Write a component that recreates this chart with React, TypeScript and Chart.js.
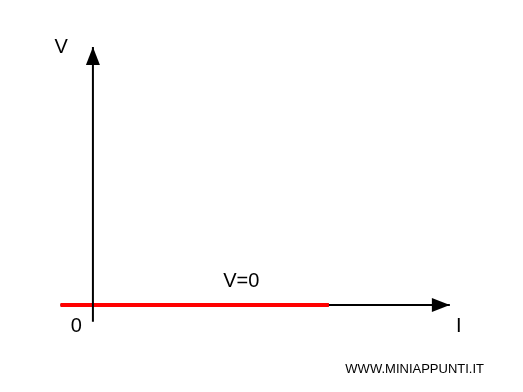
import React, { useEffect, useRef } from "react";
import { Chart, registerables } from "chart.js";

Chart.register(...registerables);

// Domain values (x: current I, y: voltage V)
const redLineX = [-1.1, 8];
const redLineY = [0, 0];
const iAxisX = [-1.1, 12.1];
const vAxisY = [-0.65, 10];
const xRange = [-3.15, 14.58];
const yRange = [-3.37, 11.82];

const labelTexts = ["V", "I", "0", "V=0"];
const labelX = [-1.08, 12.4, -0.56, 5.03];
const labelY = [9.77, -1.05, -1.05, 0.7];
const watermark = "WWW.MINIAPPUNTI.IT";

const FONT = "'Liberation Sans', Arial, sans-serif";

const arrowsAndText = {
  id: "arrowsAndText",
  afterDatasetsDraw(chart: any) {
    const { ctx } = chart;
    const xs = chart.scales.x;
    const ys = chart.scales.y;
    const px = (v: number) => xs.getPixelForValue(v);
    const py = (v: number) => ys.getPixelForValue(v);
    ctx.save();
    ctx.fillStyle = "#000";
    // horizontal arrowhead
    const hx = px(iAxisX[1]);
    const hy = py(0);
    ctx.beginPath();
    ctx.moveTo(hx, hy);
    ctx.lineTo(hx - 18, hy - 7);
    ctx.lineTo(hx - 18, hy + 7);
    ctx.closePath();
    ctx.fill();
    // vertical arrowhead
    const vx = px(0);
    const vy = py(vAxisY[1]);
    ctx.beginPath();
    ctx.moveTo(vx, vy);
    ctx.lineTo(vx - 7, vy + 18);
    ctx.lineTo(vx + 7, vy + 18);
    ctx.closePath();
    ctx.fill();
    // labels
    ctx.font = `20px ${FONT}`;
    ctx.textAlign = "center";
    ctx.textBaseline = "alphabetic";
    labelTexts.forEach((t, i) => {
      ctx.fillText(t, px(labelX[i]), py(labelY[i]));
    });
    ctx.font = `13px ${FONT}`;
    ctx.textAlign = "right";
    ctx.fillText(watermark, chart.width - 39, chart.height - 19);
    ctx.restore();
  },
};

export default function App() {
  const ref = useRef<HTMLCanvasElement>(null);
  useEffect(() => {
    document.body.style.margin = "0";
    const chart = new Chart(ref.current!, {
      type: "line",
      data: {
        datasets: [
          {
            data: iAxisX.map((x) => ({ x, y: 0 })),
            borderColor: "#000",
            borderWidth: 2,
            pointRadius: 0,
            order: 3,
          },
          {
            data: redLineX.map((x, i) => ({ x, y: redLineY[i] })),
            borderColor: "#ff0000",
            borderWidth: 4,
            pointRadius: 0,
            order: 2,
          },
          {
            data: vAxisY.map((y) => ({ x: 0, y })),
            borderColor: "#000",
            borderWidth: 2,
            pointRadius: 0,
            order: 1,
          },
        ],
      },
      options: {
        animation: false,
        responsive: false,
        layout: { padding: 0 },
        plugins: {
          legend: { display: false },
          tooltip: { enabled: false },
        },
        scales: {
          x: { type: "linear", display: false, min: xRange[0], max: xRange[1] },
          y: { type: "linear", display: false, min: yRange[0], max: yRange[1] },
        },
      },
      plugins: [arrowsAndText],
    });
    return () => chart.destroy();
  }, []);
  return (
    <div style={{ width: 523, height: 392, background: "#fff" }}>
      <canvas ref={ref} width={523} height={392} />
    </div>
  );
}
